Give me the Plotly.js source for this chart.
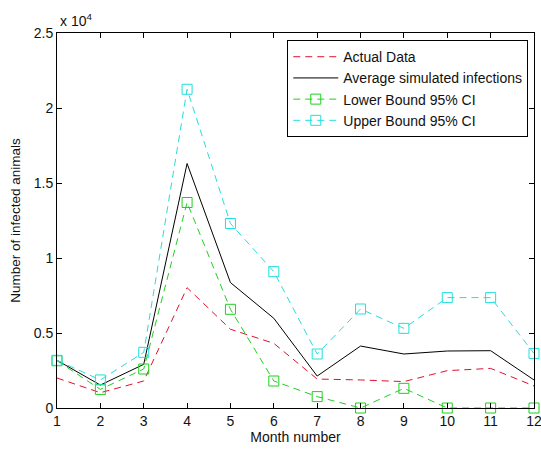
<!DOCTYPE html>
<html>
<head>
<meta charset="utf-8">
<script src="https://cdn.plot.ly/plotly-3.0.1.min.js"></script>
<style>html,body{margin:0;padding:0;background:#fff;}#chart{width:541px;height:450px;}</style>
</head>
<body>
<div id="chart"></div>
<script>
var months = [1,2,3,4,5,6,7,8,9,10,11,12];
var actualData = [2000,1020,1800,8020,5250,4310,1930,1870,1760,2490,2640,1470];
var averageSim = [3180,1530,2910,16300,8360,5980,2130,4130,3600,3800,3820,1870];
var lowerBound = [3150,1240,2600,13700,6580,1800,760,0,1310,0,0,0];
var upperBound = [3180,1870,3710,21250,12300,9090,3600,6600,5310,7360,7360,3640];
var yTickVals = [0,5000,10000,15000,20000,25000];
var yTickText = ["0","0.5","1","1.5","2","2.5"];

var font = "Liberation Sans, Arial, sans-serif";
var traces = [
  {x: months, y: actualData, name: "Actual Data", mode: "lines",
   line: {color: "#e0102c", width: 1, dash: "7px,5px"}},
  {x: months, y: averageSim, name: "Average simulated infections", mode: "lines",
   line: {color: "#000000", width: 1}},
  {x: months, y: lowerBound, name: "Lower Bound 95% CI", mode: "lines+markers",
   line: {color: "#1fd01f", width: 1, dash: "7px,5px"},
   marker: {symbol: "square-open", size: 10, color: "#1fd01f", line: {width: 1}}, cliponaxis: false},
  {x: months, y: upperBound, name: "Upper Bound 95% CI", mode: "lines+markers",
   line: {color: "#22dede", width: 1, dash: "7px,5px"},
   marker: {symbol: "square-open", size: 10, color: "#22dede", line: {width: 1}}, cliponaxis: false}
];

var axisCommon = {
  showline: true, linecolor: "#000", linewidth: 1, mirror: "ticks",
  ticks: "inside", ticklen: 5, tickcolor: "#000", showgrid: false, zeroline: false,
  ticklabeloverflow: "allow",
  tickfont: {family: font, size: 14, color: "#111"}
};

var layout = {
  width: 541, height: 450,
  margin: {l: 57, r: 7, t: 33, b: 42},
  paper_bgcolor: "#fff", plot_bgcolor: "#fff",
  font: {family: font, size: 14, color: "#111"},
  xaxis: Object.assign({}, axisCommon, {
    range: [1, 12], tickvals: months, ticktext: months.map(String),
    title: {text: "Month number", font: {family: font, size: 14, color: "#111"}, standoff: 4}
  }),
  yaxis: Object.assign({}, axisCommon, {
    range: [0, 25000], tickvals: yTickVals, ticktext: yTickText,
    title: {text: "Number of infected animals", font: {family: font, size: 13.5, color: "#111"}, standoff: 10}
  }),
  showlegend: true,
  legend: {
    x: 0.988, xanchor: "right", y: 0.981, yanchor: "top",
    bgcolor: "#fff", bordercolor: "#000", borderwidth: 1, itemwidth: 45,
    font: {family: font, size: 14, color: "#111"}, tracegroupgap: 0
  },
  annotations: [{
    xref: "paper", yref: "paper", x: 0, y: 1, xanchor: "left", yanchor: "bottom",
    xshift: 1, yshift: 2, showarrow: false,
    text: "x 10<sup>4</sup>", font: {family: font, size: 14, color: "#111"}
  }]
};

Plotly.newPlot("chart", traces, layout, {displayModeBar: false, staticPlot: true});
</script>
</body>
</html>
